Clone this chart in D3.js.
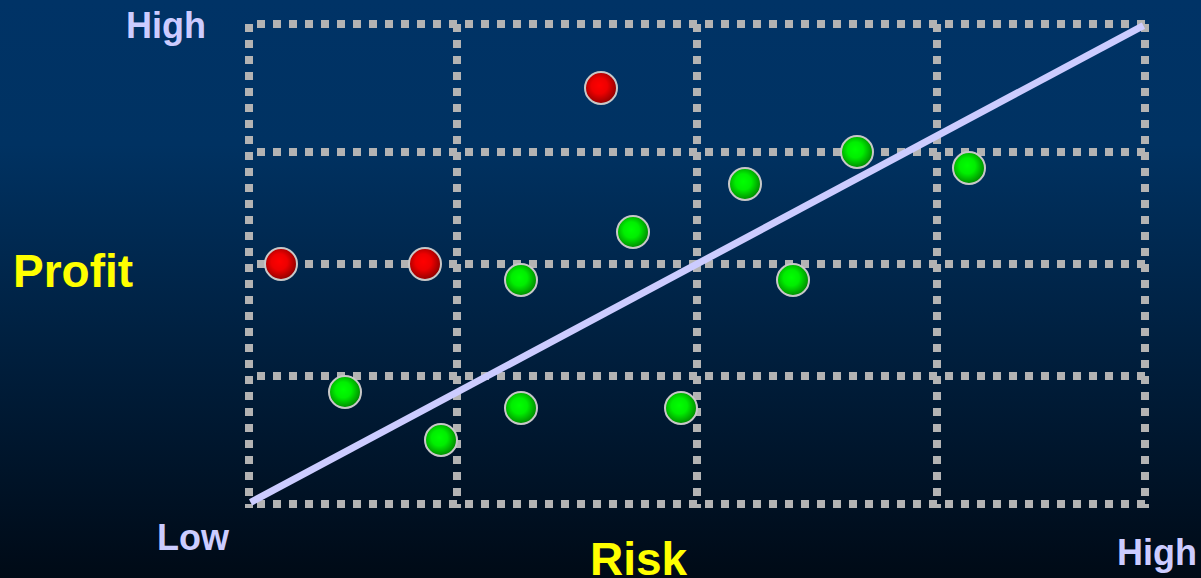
<!DOCTYPE html>
<html><head><meta charset="utf-8">
<script src="https://cdn.jsdelivr.net/npm/d3@7"></script>
<style>html,body{margin:0;padding:0;overflow:hidden;background:#000}</style>
</head><body>
<svg id="chart" width="1201" height="578"></svg>
<script>
// ---- data (risk / profit units) ----
const xGrid = [0, 13, 28, 43, 56];
const yGrid = [0, 8, 15, 22, 30];
const redRisk = [22, 2, 11];
const redProfit = [26, 15, 15];
const greenRisk = [38, 45, 31, 24, 17, 34, 6, 17, 27, 12];
const greenProfit = [22, 21, 20, 17, 14, 14, 7, 6, 6, 4];
const trendRisk = [0.1, 55.9];
const trendProfit = [0.1, 29.9];
const axisLabels = ["High", "Low", "High", "Profit", "Risk"];

const W = 1201, H = 578;
const svg = d3.select("#chart");
const x = d3.scaleLinear().domain([0, 56]).range([249, 1145]);
const y = d3.scaleLinear().domain([0, 30]).range([504, 24]);

const defs = svg.append("defs");
const bg = defs.append("linearGradient").attr("id", "bg").attr("x1", 0).attr("y1", 0).attr("x2", 0).attr("y2", 1);
bg.append("stop").attr("offset", "0").attr("stop-color", "#003366");
bg.append("stop").attr("offset", "0.25").attr("stop-color", "#003262");
bg.append("stop").attr("offset", "1").attr("stop-color", "#000a16");
function radial(id, c0, c1, c2) {
  const g = defs.append("radialGradient").attr("id", id)
    .attr("cx", "0.45").attr("cy", "0.45").attr("r", "0.55").attr("fx", "0.45").attr("fy", "0.42");
  g.append("stop").attr("offset", "0").attr("stop-color", c0);
  g.append("stop").attr("offset", "0.45").attr("stop-color", c1);
  g.append("stop").attr("offset", "1").attr("stop-color", c2);
}
radial("gRed", "#ff0000", "#ee0000", "#900000");
radial("gGreen", "#00ff00", "#00ee00", "#008a00");

svg.append("rect").attr("width", W).attr("height", H).attr("fill", "url(#bg)");

// grid
const grid = svg.append("g").attr("stroke", "#b3b3b3").attr("stroke-width", 8)
  .attr("stroke-dasharray", "8,8").attr("fill", "none");
grid.selectAll("line.h").data(yGrid).join("line").attr("class", "h")
  .attr("x1", x(0)).attr("x2", x(56) + 4)
  .attr("y1", d => y(d)).attr("y2", d => y(d))
  .attr("stroke-dashoffset", 8);
grid.selectAll("line.v").data(xGrid).join("line").attr("class", "v")
  .attr("x1", d => x(d)).attr("x2", d => x(d))
  .attr("y1", y(30)).attr("y2", y(0) + 4);

// trend line
svg.append("line")
  .attr("x1", x(trendRisk[0])).attr("y1", y(trendProfit[0]))
  .attr("x2", x(trendRisk[1])).attr("y2", y(trendProfit[1]))
  .attr("stroke", "#ccccff").attr("stroke-width", 7);

// points
const reds = redRisk.map((r, i) => ({ r, p: redProfit[i] }));
const greens = greenRisk.map((r, i) => ({ r, p: greenProfit[i] }));
svg.append("g").selectAll("circle").data(greens).join("circle")
  .attr("cx", d => x(d.r)).attr("cy", d => y(d.p)).attr("r", 16)
  .attr("fill", "url(#gGreen)").attr("stroke", "#c8c8c8").attr("stroke-width", 2);
svg.append("g").selectAll("circle").data(reds).join("circle")
  .attr("cx", d => x(d.r)).attr("cy", d => y(d.p)).attr("r", 16)
  .attr("fill", "url(#gRed)").attr("stroke", "#c8c8c8").attr("stroke-width", 2);

// labels
const font = "'Liberation Sans', Arial, Helvetica, sans-serif";
const labelPos = [
  { t: axisLabels[0], x: 126, y: 38, s: 36, c: "#ccccff" },
  { t: axisLabels[1], x: 157, y: 550, s: 36, c: "#ccccff" },
  { t: axisLabels[2], x: 1117, y: 565, s: 36, c: "#ccccff" },
  { t: axisLabels[3], x: 13, y: 287, s: 46, c: "#ffff00" },
  { t: axisLabels[4], x: 590, y: 575, s: 46, c: "#ffff00" }
];
svg.append("g").selectAll("text").data(labelPos).join("text")
  .attr("x", d => d.x).attr("y", d => d.y)
  .attr("font-family", font).attr("font-weight", "bold")
  .attr("font-size", d => d.s).attr("fill", d => d.c)
  .text(d => d.t);
</script>
</body></html>
